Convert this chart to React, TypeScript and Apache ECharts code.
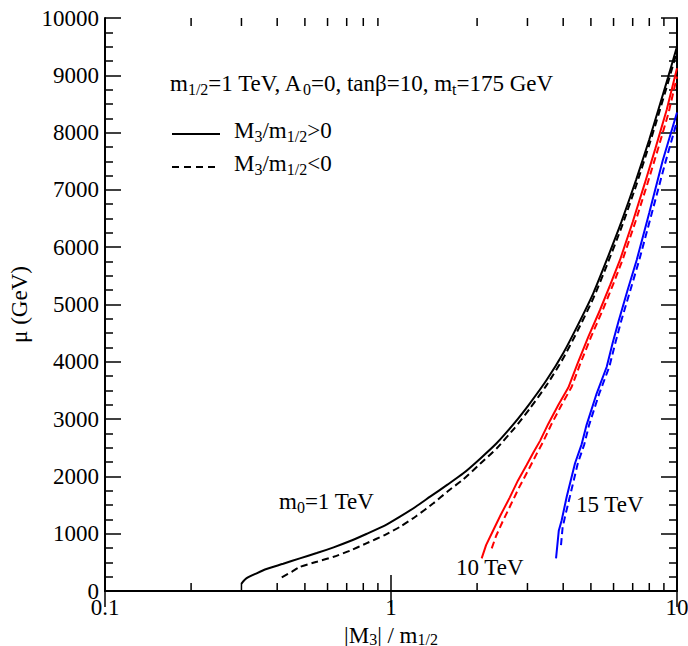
import React, { useEffect, useRef } from "react";
import * as echarts from "echarts";

// ---- data ([ |M3|/m1/2 , mu (GeV) ]) ----
const blackSolid: number[][] = [
  [0.3, 130], [0.312, 221], [0.339, 309], [0.367, 384], [0.42, 475], [0.48, 570],
  [0.55, 662], [0.63, 762], [0.72, 872], [0.82, 995], [0.95, 1140], [1.075, 1297],
  [1.22, 1470], [1.37, 1646], [1.58, 1860], [1.79, 2054], [2.05, 2310], [2.34, 2578],
  [2.7, 2930], [3.06, 3276], [3.5, 3682], [4.0, 4150], [4.5, 4640], [5.1, 5200],
  [5.68, 5777], [6.4, 6450], [7.2, 7180], [8.0, 7880], [8.6, 8394], [9.3, 8960], [10, 9500],
];
const blackDashed: number[][] = [
  [0.415, 239], [0.45, 335], [0.48, 420], [0.55, 510], [0.63, 597], [0.72, 705],
  [0.82, 832], [0.95, 975], [1.075, 1120], [1.22, 1300], [1.406, 1530], [1.58, 1740],
  [1.79, 1950], [2.05, 2220], [2.34, 2488], [2.7, 2840], [3.06, 3186], [3.5, 3592],
  [4.0, 4060], [4.5, 4550], [5.1, 5110], [5.68, 5680], [6.4, 6350], [7.2, 7080],
  [8.0, 7790], [8.6, 8300], [9.3, 8870], [10, 9420],
];
const redSolid: number[][] = [
  [2.075, 570], [2.15, 800], [2.28, 1065], [2.42, 1330], [2.6, 1630], [2.78, 1930],
  [2.98, 2200], [3.15, 2420], [3.32, 2620], [3.55, 2920], [3.85, 3250], [4.17, 3550],
  [4.5, 3980], [4.9, 4440], [5.38, 4904], [5.85, 5350], [6.32, 5777], [7.0, 6440],
  [7.7, 7100], [8.4, 7720], [9.2, 8394], [10, 9122],
];
const redDashed: number[][] = [
  [2.25, 745], [2.33, 960], [2.45, 1200], [2.62, 1500], [2.8, 1800], [3.02, 2110],
  [3.22, 2380], [3.4, 2600], [3.63, 2900], [3.95, 3250], [4.28, 3560], [4.6, 3980],
  [5.0, 4430], [5.5, 4904], [5.98, 5350], [6.45, 5777], [7.15, 6440], [7.85, 7080],
  [8.6, 7730], [9.35, 8350], [10, 8980],
];
const blueSolid: number[][] = [
  [3.776, 570], [3.86, 1050], [3.95, 1230], [4.115, 1646], [4.4, 2229], [4.64, 2560],
  [4.83, 2900], [5.24, 3450], [5.68, 3914], [5.95, 4320], [6.24, 4700], [6.7, 5230],
  [7.23, 5777], [8.0, 6600], [8.9, 7500], [10, 8350],
];
const blueDashed: number[][] = [
  [3.93, 800], [3.98, 1100], [4.06, 1300], [4.22, 1646], [4.5, 2229], [4.74, 2560],
  [4.93, 2900], [5.35, 3450], [5.8, 3914], [6.08, 4320], [6.37, 4700], [6.85, 5230],
  [7.38, 5777], [8.15, 6580], [9.05, 7430], [10, 8200],
];

const xTickLabels: Record<string, string> = { "0.1": "0.1", "1": "1", "10": "10" };
const xMinorTicks = [0.2, 0.3, 0.4, 0.5, 0.6, 0.7, 0.8, 0.9, 2, 3, 4, 5, 6, 7, 8, 9];

const FONT = "'Liberation Serif', 'DejaVu Serif', serif";
const FS = 23;

const richMain = { fontFamily: FONT, fontSize: FS, color: "#000", lineHeight: 27 };
const richSub = { fontFamily: FONT, fontSize: 16, color: "#000", lineHeight: 14, verticalAlign: "bottom" };
const nameMain = { fontFamily: FONT, fontSize: FS, color: "#000", lineHeight: 24 };
const nameSub = { fontFamily: FONT, fontSize: 16, color: "#000", lineHeight: 12, verticalAlign: "bottom" };

export default function App() {
  const ref = useRef<HTMLDivElement>(null);

  useEffect(() => {
    document.body.style.margin = "0";
    const chart = echarts.init(ref.current!, null, { renderer: "svg" });

    const axisLine = { show: true, lineStyle: { color: "#000", width: 2 } };
    const axisTick = { show: true, inside: true, length: 16, lineStyle: { color: "#000", width: 1.5 } };

    const lineSeries = (data: number[][], color: string, dashed: boolean, smooth: boolean) => ({
      type: "line",
      data,
      showSymbol: false,
      symbol: "none",
      smooth: smooth ? 0.2 : false,
      lineStyle: { color, width: 2, type: dashed ? [7, 4] : "solid" },
      silent: true,
    });

    const option: any = {
      animation: false,
      backgroundColor: "#fff",
      grid: { left: 105, right: 11, top: 18, bottom: 55, outerBoundsMode: "none", containLabel: false },
      xAxis: [
        {
          type: "log",
          logBase: 10,
          min: 0.1,
          max: 10,
          position: "bottom",
          axisLine,
          axisTick,
          splitLine: { show: false },
          axisLabel: {
            color: "#000",
            fontFamily: FONT,
            fontSize: FS,
            margin: 5,
            formatter: (v: number) => xTickLabels[String(v)] ?? String(v),
          },
          name: "{i||M}{s|3}{i|| / m}{s|1/2}",
          nameLocation: "middle",
          nameGap: 20,
          nameTextStyle: { rich: { i: nameMain, s: nameSub } },
        },
        {
          type: "log",
          logBase: 10,
          min: 0.1,
          max: 10,
          position: "top",
          axisLine,
          axisTick,
          splitLine: { show: false },
          axisLabel: { show: false },
        },
      ],
      yAxis: [
        {
          type: "value",
          min: 0,
          max: 10000,
          interval: 1000,
          position: "left",
          axisLine,
          axisTick,
          minorTick: { show: true, splitNumber: 4, length: 8, lineStyle: { color: "#000", width: 1.5 } },
          splitLine: { show: false },
          minorSplitLine: { show: false },
          axisLabel: {
            color: "#000",
            fontFamily: FONT,
            fontSize: FS,
            margin: 6,
            formatter: (v: number) => String(v),
          },
          name: "μ (GeV)",
          nameLocation: "middle",
          nameRotate: 90,
          nameGap: 63,
          nameTextStyle: { color: "#000", fontFamily: FONT, fontSize: FS },
        },
        {
          type: "value",
          min: 0,
          max: 10000,
          interval: 1000,
          position: "right",
          axisLine,
          axisTick,
          minorTick: { show: true, splitNumber: 4, length: 8, lineStyle: { color: "#000", width: 1.5 } },
          splitLine: { show: false },
          axisLabel: { show: false },
        },
      ],
      series: [
        {
          type: "custom",
          silent: true,
          clip: false,
          xAxisIndex: 0,
          yAxisIndex: 0,
          data: xMinorTicks.map((v) => [v, 0]),
          renderItem: (params: any, api: any) => {
            const x = api.value(0);
            const pb = api.coord([x, 0]);
            const pt = api.coord([x, 10000]);
            const st = { stroke: "#000", lineWidth: 1.5 };
            return {
              type: "group",
              children: [
                { type: "line", shape: { x1: pb[0], y1: pb[1], x2: pb[0], y2: pb[1] - 8 }, style: st },
                { type: "line", shape: { x1: pt[0], y1: pt[1], x2: pt[0], y2: pt[1] + 8 }, style: st },
              ],
            };
          },
        },
        lineSeries(blackSolid, "#000000", false, true),
        lineSeries(blackDashed, "#000000", true, true),
        lineSeries(redSolid, "#ff0000", false, false),
        lineSeries(redDashed, "#ff0000", true, false),
        lineSeries(blueSolid, "#0000ff", false, false),
        lineSeries(blueDashed, "#0000ff", true, false),
      ],
      graphic: [
        {
          type: "text",
          left: 170,
          top: 72,
          style: {
            text: "{i|m}{s|1/2}{i|=1 TeV, A}{s|0}{i|=0, tanβ=10, m}{s|t}{i|=175 GeV}",
            rich: { i: richMain, s: richSub },
          },
        },
        {
          type: "line",
          shape: { x1: 172, y1: 134, x2: 220, y2: 134 },
          style: { stroke: "#000", lineWidth: 2 },
        },
        {
          type: "text",
          left: 234,
          top: 119,
          style: { text: "{i|M}{s|3}{i|/m}{s|1/2}{i|>0}", rich: { i: richMain, s: richSub } },
        },
        {
          type: "line",
          shape: { x1: 172, y1: 167, x2: 220, y2: 167 },
          style: { stroke: "#000", lineWidth: 2, lineDash: [7, 5] },
        },
        {
          type: "text",
          left: 234,
          top: 152,
          style: { text: "{i|M}{s|3}{i|/m}{s|1/2}{i|<0}", rich: { i: richMain, s: richSub } },
        },
        {
          type: "text",
          left: 279,
          top: 490,
          style: { text: "{i|m}{s|0}{i|=1 TeV}", rich: { i: richMain, s: richSub } },
        },
        {
          type: "text",
          left: 456,
          top: 556,
          style: { text: "10 TeV", fill: "#000", font: `${FS}px ${FONT}` },
        },
        {
          type: "text",
          left: 576,
          top: 493,
          style: { text: "15 TeV", fill: "#000", font: `${FS}px ${FONT}` },
        },
      ],
    };

    chart.setOption(option);
    return () => chart.dispose();
  }, []);

  return <div ref={ref} style={{ width: 688, height: 646 }} />;
}
